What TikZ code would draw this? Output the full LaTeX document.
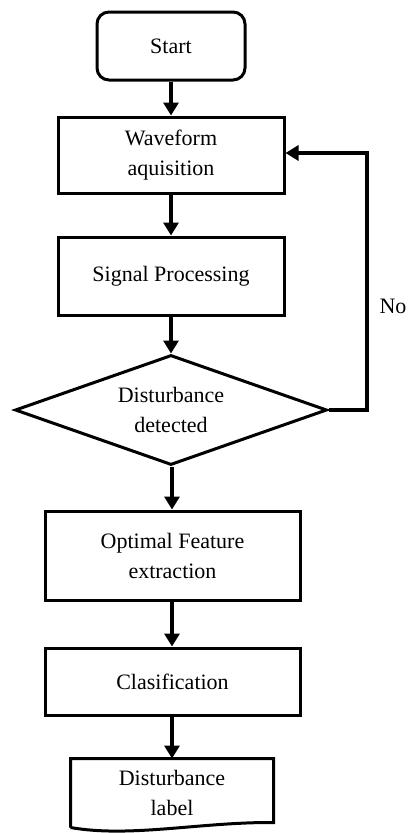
\documentclass[tikz,border=0pt]{standalone}
\usepackage{fontspec}
\setmainfont{Liberation Serif}
\usetikzlibrary{arrows.meta,shapes.geometric}
\tikzset{
  box/.style={draw, line width=3pt, rectangle, inner sep=0pt, align=center,
    font=\fontsize{22}{30}\selectfont},
  flow/.style={line width=4pt, -{Triangle[length=13pt,width=15pt]}},
}
\begin{document}
\begin{tikzpicture}[x=1pt,y=-1pt]
\useasboundingbox (0,0) rectangle (408,833);
\node[box, rounded corners=12pt, minimum width=148pt, minimum height=68pt] (start) at (171,46) {Start};
\node[box, minimum width=226pt, minimum height=76pt] (wave) at (171,155) {Waveform\\aquisition};
\node[box, minimum width=226pt, minimum height=78pt] (sig) at (171,276) {Signal Processing};
\node[box, shape=diamond, aspect=2.84, minimum width=312pt, minimum height=110pt] (dec) at (171,410) {Disturbance\\detected};
\node[box, minimum width=255pt, minimum height=89pt] (opt) at (172.5,555.5) {Optimal Feature\\extraction};
\node[box, minimum width=255pt, minimum height=67pt] (clas) at (172.5,681.5) {Clasification};
\node[box, draw=none, minimum width=200pt, minimum height=66pt] (lab) at (172,793) {Disturbance\\label};
\draw[line width=3pt, line join=miter]
  (lab.south west) -- (lab.north west) -- (lab.north east) -- ([yshift=5pt]lab.south east)
  .. controls (200,822) and (130,838) .. (lab.south west);
\node[font=\fontsize{22}{30}\selectfont] (no) at (393,306) {No};
\coordinate (c1) at (367,410);
\coordinate (c2) at (367,153);
\draw[flow] (start.south) -- (wave.north);
\draw[flow] (wave.south) -- (sig.north);
\draw[flow] (sig.south) -- (dec.north);
\draw[flow] (dec.south -| 172,0) -- (opt.north -| 172,0);
\draw[flow] (opt.south -| 172,0) -- (clas.north -| 172,0);
\draw[flow] (clas.south -| 172,0) -- (lab.north -| 172,0);
\draw[flow, line join=miter] (dec.east) -- (c1) -- (c2) -- (wave.east |- c2);
\end{tikzpicture}
\end{document}
